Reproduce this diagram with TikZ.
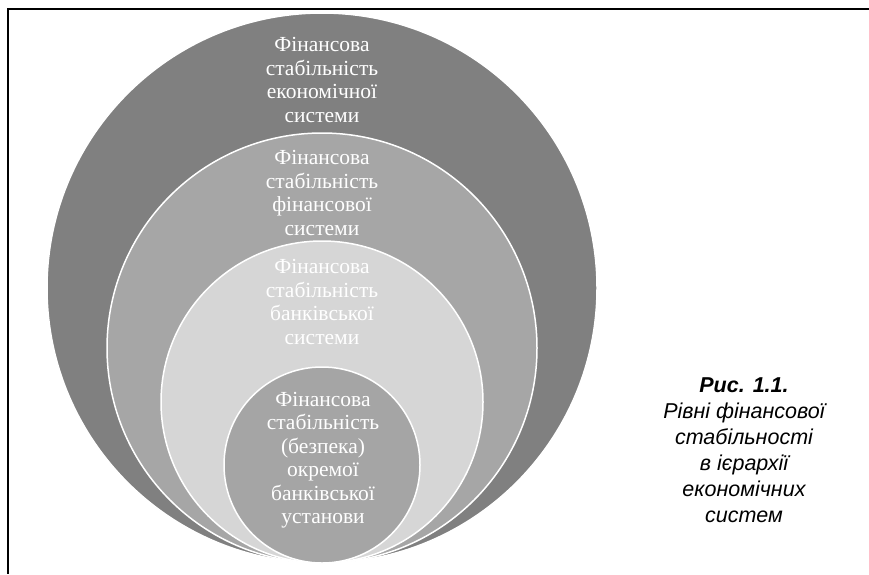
\documentclass[tikz,border=0pt]{standalone}
\usepackage{fontspec}
\setmainfont{Liberation Serif}
\setsansfont{Liberation Sans}
\definecolor{ringouter}{RGB}{128,128,128}
\definecolor{ringfin}{RGB}{166,166,166}
\definecolor{ringbank}{RGB}{214,214,214}
\definecolor{ringinner}{RGB}{165,165,165}
\tikzset{
  ringtext/.style={align=center, text=white, font=\rmfamily\fontsize{21.5}{23.5}\selectfont},
  captext/.style={align=center, text=black, font=\sffamily\itshape\fontsize{21.5}{26}\selectfont}
}
\begin{document}
\begin{tikzpicture}[x=1pt, y=-1pt]
            \useasboundingbox (0,0) rectangle (869,574);
            \draw[line width=2pt] (869,9) -- (8,9) -- (8,574);
            \foreach \r/\c in {275/ringouter, 215/ringfin, 161/ringbank, 98/ringinner} {
                \fill[\c, draw=white, line width=1.5pt] (322,{563-\r}) circle (\r pt);
            }
            \node[ringtext] (econ) at (322,80) {Фінансова\\стабільність\\економічної\\системи};
            \node[ringtext] (fin) at (322,193) {Фінансова\\стабільність\\фінансової\\системи};
            \node[ringtext] (bank) at (322,302) {Фінансова\\стабільність\\банківської\\системи};
            \node[ringtext] (inst) at (323,460) {Фінансова\\стабільність\\(безпека)\\окремої\\банківської\\установи};
            \node[captext] (caption) at (744,450) {\textbf{Рис. 1.1.}\\Рівні фінансової\\стабільності\\в ієрархії\\економічних\\систем};
        \end{tikzpicture}
\end{document}
